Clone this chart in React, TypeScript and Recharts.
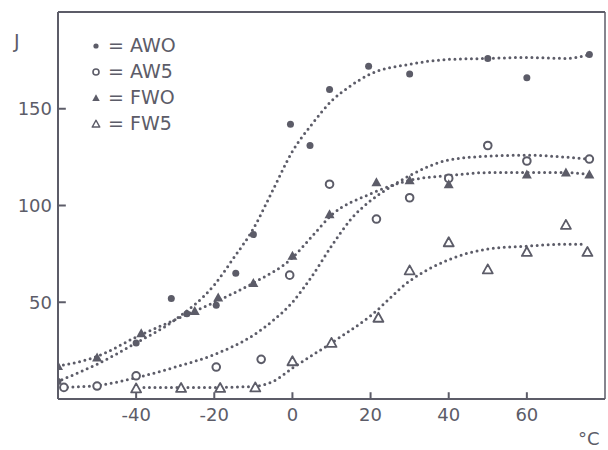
import React from 'react';
import { ComposedChart, Line, Scatter, XAxis, YAxis, ReferenceLine } from 'recharts';

const INK = '#5c5c68';
const FONT = '"DejaVu Sans", sans-serif';

// measured points (temperature °C, energy J)
const awoPoints = [
  { t: -60, j: 9 }, { t: -40, j: 29 }, { t: -31, j: 52 }, { t: -27, j: 44 },
  { t: -19.5, j: 48.5 }, { t: -14.5, j: 65 }, { t: -10, j: 85 }, { t: -0.5, j: 142 },
  { t: 4.5, j: 131 }, { t: 9.5, j: 160 }, { t: 19.5, j: 172 }, { t: 30, j: 168 },
  { t: 50, j: 176 }, { t: 60, j: 166 }, { t: 76, j: 178 },
];
const aw5Points = [
  { t: -58.5, j: 6 }, { t: -50, j: 6.7 }, { t: -40, j: 12 }, { t: -19.5, j: 16.5 },
  { t: -8, j: 20.5 }, { t: -0.7, j: 64 }, { t: 9.5, j: 111 }, { t: 21.5, j: 93 },
  { t: 30, j: 104 }, { t: 40, j: 114 }, { t: 50, j: 131 }, { t: 60, j: 123 }, { t: 76, j: 124 },
];
const fwoPoints = [
  { t: -60, j: 17 }, { t: -50, j: 21.5 }, { t: -38.7, j: 34 }, { t: -25, j: 45.5 },
  { t: -19, j: 52.5 }, { t: -10, j: 60 }, { t: 0, j: 74 }, { t: 9.5, j: 95.5 },
  { t: 21.5, j: 112 }, { t: 30, j: 113 }, { t: 40, j: 111 }, { t: 60, j: 116 },
  { t: 70, j: 117 }, { t: 76, j: 116 },
];
const fw5Points = [
  { t: -40, j: 5.5 }, { t: -28.5, j: 5.7 }, { t: -18.5, j: 5.7 }, { t: -9.5, j: 6 },
  { t: 0, j: 19.5 }, { t: 10, j: 29 }, { t: 22, j: 42 }, { t: 30, j: 66.5 },
  { t: 40, j: 81 }, { t: 50, j: 67 }, { t: 60, j: 76 }, { t: 70, j: 90 }, { t: 75.5, j: 76 },
];

// fitted curves
const awoCurve = [
  { t: -59, j: 10 }, { t: -50, j: 18 }, { t: -40, j: 29 }, { t: -30, j: 41 },
  { t: -20, j: 59 }, { t: -15, j: 73 }, { t: -10, j: 88 }, { t: -5, j: 108 },
  { t: 0, j: 128 }, { t: 5, j: 142 }, { t: 10, j: 154 }, { t: 15, j: 162 },
  { t: 20, j: 168 }, { t: 30, j: 173 }, { t: 40, j: 175.5 }, { t: 50, j: 176 },
  { t: 60, j: 176.5 }, { t: 70, j: 176 }, { t: 76, j: 178 },
];
const aw5Curve = [
  { t: -59, j: 6 }, { t: -50, j: 7 }, { t: -40, j: 11 }, { t: -30, j: 16.5 },
  { t: -20, j: 23 }, { t: -10, j: 33 }, { t: -5, j: 40.5 }, { t: 0, j: 50 },
  { t: 5, j: 63.5 }, { t: 10, j: 79 }, { t: 15, j: 93 }, { t: 20, j: 102.5 },
  { t: 25, j: 109.5 }, { t: 30, j: 115.5 }, { t: 40, j: 123.5 }, { t: 50, j: 125.5 },
  { t: 60, j: 126 }, { t: 70, j: 125 }, { t: 76, j: 124 },
];
const fwoCurve = [
  { t: -60, j: 17 }, { t: -50, j: 22 }, { t: -40, j: 32 }, { t: -30, j: 41 },
  { t: -20, j: 50 }, { t: -10, j: 60 }, { t: 0, j: 73 }, { t: 5, j: 84 },
  { t: 10, j: 95 }, { t: 20, j: 106 }, { t: 30, j: 113 }, { t: 40, j: 115.5 },
  { t: 50, j: 117 }, { t: 60, j: 117 }, { t: 70, j: 117 }, { t: 76, j: 116 },
];
const fw5Curve = [
  { t: -38, j: 6 }, { t: -30, j: 6 }, { t: -20, j: 6 }, { t: -10, j: 6.5 },
  { t: -5, j: 9 }, { t: 0, j: 16 }, { t: 10, j: 29 }, { t: 20, j: 43 },
  { t: 30, j: 61 }, { t: 40, j: 72 }, { t: 50, j: 77.5 }, { t: 60, j: 79 },
  { t: 70, j: 80 }, { t: 75, j: 80 },
];

const xTicks = [-40, -20, 0, 20, 40, 60];
const yTicks = [50, 100, 150];
const legendItems = ['AWO', 'AW5', 'FWO', 'FW5'];

const FilledCircle = (p: any) => <circle cx={p.cx} cy={p.cy} r={p.k ? 2.6 : 3.5} fill={INK} />;
const OpenCircle = (p: any) => (
  <circle cx={p.cx} cy={p.cy} r={p.k ? 3 : 3.8} fill="#fff" stroke={INK} strokeWidth={p.k ? 1.6 : 2} />
);
const triPts = (cx: number, cy: number, s: number) =>
  `${cx},${cy - 5 * s} ${cx - 5 * s},${cy + 4 * s} ${cx + 5 * s},${cy + 4 * s}`;
const FilledTri = (p: any) => <polygon points={triPts(p.cx, p.cy, p.k ? 0.75 : 1)} fill={INK} />;
const OpenTri = (p: any) => (
  <polygon points={triPts(p.cx, p.cy, p.k ? 0.75 : 1)} fill="#fff" stroke={INK} strokeWidth={p.k ? 1.5 : 1.8} strokeLinejoin="round" />
);
const shapes = [FilledCircle, OpenCircle, FilledTri, OpenTri];

const dotted = {
  type: 'monotone' as const,
  dataKey: 'j',
  stroke: INK,
  strokeWidth: 3,
  strokeDasharray: '0 5.5',
  strokeLinecap: 'round' as const,
  dot: false,
  activeDot: false,
  isAnimationActive: false,
};

export default function App() {
  return (
    <div style={{ position: 'absolute', left: 0, top: 0, width: 608, height: 450, background: '#fff', fontFamily: FONT }}>
      <ComposedChart width={608} height={450} margin={{ top: 12, right: 3, bottom: 0, left: 0 }}>
        <XAxis
          dataKey="t"
          type="number"
          domain={[-60, 80]}
          ticks={xTicks}
          allowDataOverflow
          height={51}
          tickSize={0}
          tickMargin={9}
          axisLine={{ stroke: INK, strokeWidth: 2 }}
          tick={{ fill: INK, fontSize: 18, fontFamily: FONT }}
        />
        <YAxis
          type="number"
          domain={[0, 200]}
          ticks={yTicks}
          allowDataOverflow
          width={58}
          tickSize={0}
          tickMargin={6}
          axisLine={{ stroke: INK, strokeWidth: 2 }}
          tick={{ fill: INK, fontSize: 18, fontFamily: FONT }}
        />
        <ReferenceLine y={200} stroke={INK} strokeWidth={2} />
        <ReferenceLine x={80} stroke={INK} strokeWidth={1.5} />
        {yTicks.map((v) => (
          <ReferenceLine key={'y' + v} segment={[{ x: -60, y: v }, { x: -58, y: v }]} stroke={INK} strokeWidth={2} />
        ))}
        {xTicks.map((v) => (
          <ReferenceLine key={'x' + v} segment={[{ x: v, y: 0 }, { x: v, y: 3.5 }]} stroke={INK} strokeWidth={2} />
        ))}
        <Line data={awoCurve} {...dotted} />
        <Line data={aw5Curve} {...dotted} />
        <Line data={fwoCurve} {...dotted} />
        <Line data={fw5Curve} {...dotted} />
        <Scatter data={awoPoints} dataKey="j" shape={FilledCircle} isAnimationActive={false} />
        <Scatter data={aw5Points} dataKey="j" shape={OpenCircle} isAnimationActive={false} />
        <Scatter data={fwoPoints} dataKey="j" shape={FilledTri} isAnimationActive={false} />
        <Scatter data={fw5Points} dataKey="j" shape={OpenTri} isAnimationActive={false} />
      </ComposedChart>
      <div style={{ position: 'absolute', left: 14, top: 30, color: INK, fontSize: 19 }}>J</div>
      <div style={{ position: 'absolute', left: 578, top: 428, color: INK, fontSize: 18 }}>°C</div>
      <div style={{ position: 'absolute', left: 86, top: 32, color: INK, fontSize: 19, lineHeight: '26px' }}>
        {legendItems.map((name, i) => {
          const S = shapes[i];
          return (
            <div key={name} style={{ display: 'flex', alignItems: 'center', height: 26 }}>
              <svg width={20} height={20} style={{ marginRight: 2 }}>
                <S cx={10} cy={11} k />
              </svg>
              <span>= {name}</span>
            </div>
          );
        })}
      </div>
    </div>
  );
}
